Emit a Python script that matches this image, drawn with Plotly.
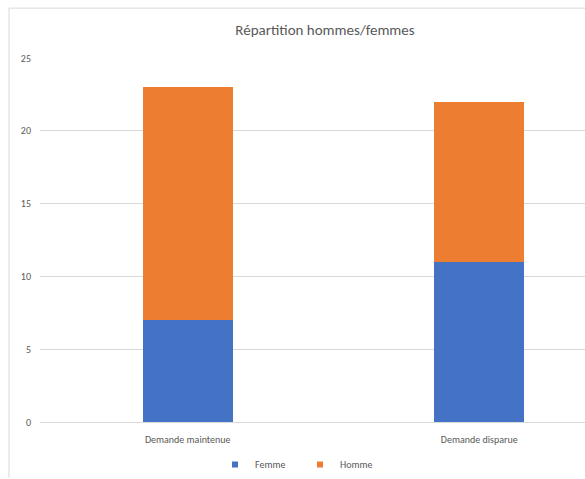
import plotly.graph_objects as go

# Data
categories = ["Demande maintenue", "Demande disparue"]
femme = [7, 11]
homme = [16, 11]
y_ticks = [0, 5, 10, 15, 20, 25]
series_names = ["Femme", "Homme"]
series_colors = ["#4472C4", "#ED7D31"]

W, H = 585, 479
L, R, T, B = 40, 0, 58, 56
plot_w = W - L - R
plot_h = H - T - B

grey_text = "#595959"
grid = "#d9d9d9"
font_family = "Carlito, Calibri, 'Liberation Sans', 'Open Sans', sans-serif"

fig = go.Figure()
for name, vals, col in zip(series_names, [femme, homme], series_colors):
    fig.add_trace(go.Bar(x=categories, y=vals, name=name, showlegend=False,
                         legendgroup=name,
                         marker=dict(color=col, line=dict(width=0)), width=0.31))
    # small square legend keys
    fig.add_trace(go.Scatter(x=[None], y=[None], mode="markers", name=name,
                             legendgroup=name,
                             marker=dict(symbol="square", size=6, color=col)))

# category spacing in px; right edge of the plot is cut by the frame
px_per_cat = 291.5
x_left = -0.5 + (L - 42) / px_per_cat
x_right = x_left + plot_w / px_per_cat

fig.update_layout(
    barmode="stack",
    width=W, height=H,
    margin=dict(l=L, r=R, t=T, b=B, pad=0),
    paper_bgcolor="white",
    plot_bgcolor="white",
    font=dict(family=font_family, color=grey_text, size=10),
    title=dict(text="Répartition hommes/femmes",
               x=325 / W, xanchor="center",
               y=1 - 30 / H, yanchor="middle",
               font=dict(size=15, color=grey_text)),
    xaxis=dict(type="category", range=[x_left, x_right],
               showgrid=False, showline=False, ticks="",
               tickfont=dict(size=10, color=grey_text),
               ticklabelstandoff=10),
    yaxis=dict(range=[0, 25], tickvals=y_ticks, showgrid=True,
               gridcolor=grid, gridwidth=1, zeroline=True,
               zerolinecolor=grid, zerolinewidth=1,
               ticks="", tickfont=dict(size=10, color=grey_text),
               ticklabelstandoff=8),
    legend=dict(orientation="h", x=(300 - L) / plot_w, xanchor="center",
                y=-(466 - (T + plot_h)) / plot_h, yanchor="middle",
                font=dict(size=10, color=grey_text),
                itemwidth=30, traceorder="normal",
                entrywidth=40, entrywidthmode="pixels",
                bgcolor="rgba(0,0,0,0)"),
    showlegend=True,
    shapes=[
        dict(type="line", xref="paper", yref="paper",
             x0=(9 - L) / plot_w, x1=1, y0=1 + (T - 8) / plot_h, y1=1 + (T - 8) / plot_h,
             line=dict(color=grid, width=1)),
        dict(type="line", xref="paper", yref="paper",
             x0=(9 - L) / plot_w, x1=(9 - L) / plot_w,
             y0=1 + (T - 8) / plot_h, y1=-B / plot_h,
             line=dict(color=grid, width=1)),
    ],
)

fig.write_html("out.html")
